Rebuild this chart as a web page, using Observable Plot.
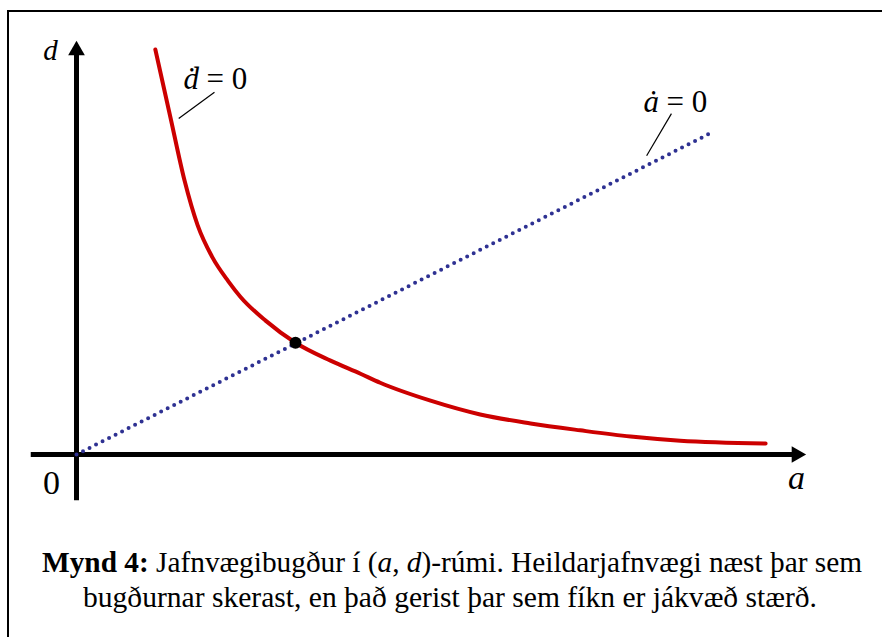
<!DOCTYPE html>
<html>
<head>
<meta charset="utf-8">
<script src="https://cdn.jsdelivr.net/npm/d3@7"></script>
<script src="https://cdn.jsdelivr.net/npm/@observablehq/plot@0.6"></script>
<style>
  html, body { margin: 0; padding: 0; background: #fff; }
  #page { position: relative; width: 882px; height: 637px; overflow: hidden;
          font-family: 'Liberation Serif', 'Times New Roman', Times, serif; }
  #frame { position: absolute; left: 7px; top: 10px; width: 1000px; height: 1000px;
           border-left: 2.5px solid #000; border-top: 2.5px solid #000; }
  #chart { position: absolute; left: 0; top: 0; }
  .capline { position: absolute; left: 0; width: 882px; height: 36px; white-space: nowrap;
             font-size: 30px; line-height: 36px; color: #000; }
  .capline span.inner { display: inline-block; position: absolute; transform-origin: 0 0; }
</style>
</head>
<body>
<div id="page">
  <div id="frame"></div>
  <div id="chart"></div>
  <div class="capline" id="cap1" style="top:544px"><span class="inner"><b>Mynd 4:</b> Jafnvægibugður í (<i>a</i>, <i>d</i>)-rúmi. Heildarjafnvægi næst þar sem</span></div>
  <div class="capline" id="cap2" style="top:579px"><span class="inner">bugðurnar skerast, en það gerist þar sem fíkn er jákvæð stærð.</span></div>
</div>
<script>
// d-dot = 0 isocline (red curve)
const curveA = [1.08, 1.29, 1.48, 1.66, 1.86, 2.08, 2.25, 2.59, 3.00, 3.48, 3.89, 4.16, 4.85, 5.53, 6.22, 6.90, 7.59, 8.27, 9.44];
const curveD = [5.87, 4.87, 3.97, 3.32, 2.86, 2.51, 2.28, 1.94, 1.62, 1.36, 1.17, 1.04, 0.78, 0.58, 0.45, 0.35, 0.26, 0.20, 0.16];

// a-dot = 0 isocline (dotted straight line through the origin)
const lineA = [0, 8.67];
const lineD = [0, 4.65];

// equilibrium where the two isoclines cross
const eqA = [3.00];
const eqD = [1.62];

// isocline labels: italic variable, upright "= 0", and leader lines
const labelVar = ["ḋ", "ȧ"];
const labelRest = ["= 0", "= 0"];
const labelA = [1.466, 7.767];
const labelD = [5.29, 4.96];
const leaderA1 = [1.89, 8.15], leaderD1 = [5.25, 4.94];
const leaderA2 = [1.40, 7.81], leaderD2 = [4.87, 4.33];

const curve = curveA.map((a, i) => ({a, d: curveD[i]}));
const line = lineA.map((a, i) => ({a, d: lineD[i]}));
const eq = eqA.map((a, i) => ({a, d: eqD[i]}));
const labels = labelVar.map((v, i) => ({v, r: labelRest[i], a: labelA[i], d: labelD[i]}));
const leaders = leaderA1.map((a, i) => ({a1: a, d1: leaderD1[i], a2: leaderA2[i], d2: leaderD2[i]}));

const serif = "'Liberation Serif', 'Times New Roman', Times, serif";

const chart = Plot.plot({
  width: 882,
  height: 520,
  x: {domain: [0, 10], range: [76, 806], axis: null},
  y: {domain: [0, 6], range: [454, 40], axis: null},
  style: {fontFamily: serif, background: "transparent", overflow: "visible", color: "#000"},
  marks: [
    // axes
    Plot.ruleY([0], {x1: -0.62, x2: 9.82, stroke: "#000", strokeWidth: 5}),
    Plot.ruleX([0], {y1: -0.67, y2: 5.80, stroke: "#000", strokeWidth: 5}),
    Plot.dot([{a: 0, d: 6}], {x: "a", y: "d", symbol: "triangle", r: 6.2, fill: "#000", stroke: null, dy: 10}),
    Plot.dot([{a: 10, d: 0}], {x: "a", y: "d", symbol: "triangle", r: 6.2, fill: "#000", stroke: null, rotate: 90, dx: -10}),
    // isoclines
    Plot.line(line, {x: "a", y: "d", stroke: "#2e3192", strokeWidth: 4, strokeDasharray: "0 7.3", strokeLinecap: "round"}),
    Plot.line(curve, {x: "a", y: "d", stroke: "#cc0000", strokeWidth: 4, curve: "monotone-x"}),
    Plot.dot(eq, {x: "a", y: "d", r: 6, fill: "#000", stroke: null}),
    // axis labels
    Plot.text([{a: 0, d: 6}], {x: "a", y: "d", text: () => "d", dx: -26, dy: 19, lineAnchor: "bottom", fontSize: 29, fontStyle: "italic", fill: "#000"}),
    Plot.text([{a: 10, d: 0}], {x: "a", y: "d", text: () => "a", dx: -10, dy: 34, lineAnchor: "bottom", fontSize: 34, fontStyle: "italic", fill: "#000"}),
    Plot.text([{a: 0, d: 0}], {x: "a", y: "d", text: () => "0", dx: -25, dy: 39, lineAnchor: "bottom", fontSize: 34, fill: "#000"}),
    // isocline labels
    Plot.link(leaders, {x1: "a1", y1: "d1", x2: "a2", y2: "d2", stroke: "#000", strokeWidth: 1.2}),
    Plot.text(labels, {x: "a", y: "d", text: "v", textAnchor: "start", lineAnchor: "bottom", fontSize: 31, fontStyle: "italic", fill: "#000"}),
    Plot.text(labels, {x: "a", y: "d", text: "r", dx: 23, textAnchor: "start", lineAnchor: "bottom", fontSize: 31, fill: "#000"})
  ]
});
document.getElementById("chart").appendChild(chart);

// squeeze each caption line to its column width
function fitLine(id, left, right) {
  const inner = document.querySelector("#" + id + " .inner");
  const w = inner.getBoundingClientRect().width;
  const k = (right - left) / w;
  inner.style.left = left + "px";
  inner.style.transform = `scaleX(${k})`;
}
fitLine("cap1", 42, 862);
fitLine("cap2", 83, 817);
</script>
</body>
</html>
